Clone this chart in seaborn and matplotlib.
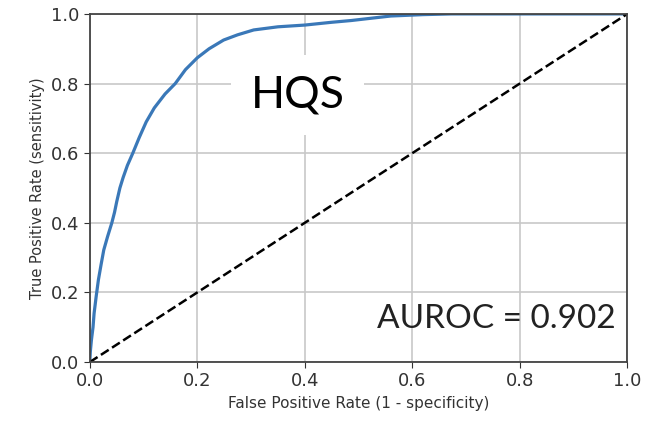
import matplotlib
matplotlib.use("Agg")
import matplotlib.pyplot as plt
import seaborn as sns
import pandas as pd

# ROC-Kurve, Werte
fpr = [0.0, 0.001, 0.003, 0.006, 0.008, 0.012, 0.016, 0.021, 0.026, 0.033,
       0.041, 0.046, 0.050, 0.056, 0.062, 0.070, 0.080, 0.092, 0.105, 0.120,
       0.140, 0.159, 0.178, 0.200, 0.222, 0.249, 0.275, 0.305, 0.350, 0.400,
       0.450, 0.486, 0.520, 0.560, 0.620, 0.673, 0.750, 0.850, 1.0]
tpr = [0.0, 0.03, 0.063, 0.10, 0.14, 0.19, 0.236, 0.28, 0.322, 0.36,
       0.40, 0.43, 0.46, 0.50, 0.53, 0.565, 0.60, 0.645, 0.69, 0.73,
       0.77, 0.80, 0.84, 0.874, 0.90, 0.925, 0.94, 0.954, 0.963, 0.968,
       0.976, 0.981, 0.987, 0.994, 0.998, 1.0, 1.0, 1.0, 1.0]
chance = [0.0, 1.0]
auroc = 0.902
model_name = "HQS"
xticks = [0.0, 0.2, 0.4, 0.6, 0.8, 1.0]

df = pd.DataFrame({"fpr": fpr, "tpr": tpr})

sns.set_style("ticks")
fig = plt.figure(figsize=(6.46, 4.22), dpi=100)
ax = fig.add_axes([0.139, 0.142, 0.832, 0.825])

sns.lineplot(data=df, x="fpr", y="tpr", ax=ax, color="#3a78b8", linewidth=2.3,
             sort=False, estimator=None)
ax.plot(chance, chance, "k--", linewidth=1.8)

ax.set_xlim(0, 1)
ax.set_ylim(0, 1)
ax.set_xticks(xticks)
ax.set_yticks(xticks)
ax.tick_params(labelsize=13, colors="#333333", length=4)
ax.grid(True, color="#c8c8c8", linewidth=1.2)
for s in ax.spines.values():
    s.set_color("#444444")
    s.set_linewidth(1.3)

ax.set_xlabel("False Positive Rate (1 - specificity)", fontsize=11, color="#333333")
ax.set_ylabel("True Positive Rate (sensitivity)", fontsize=10.5, color="#333333")

ax.text(0.387, 0.767, model_name, transform=ax.transAxes, fontsize=32,
        family="Lato", ha="center", va="center", zorder=5, color="black",
        bbox=dict(facecolor="white", edgecolor="none", pad=14))
ax.text(0.978, 0.124, f"AUROC = {auroc}", transform=ax.transAxes, fontsize=24,
        family="Lato", ha="right", va="center", color="#222222")

fig.savefig("out.png", dpi=100)
